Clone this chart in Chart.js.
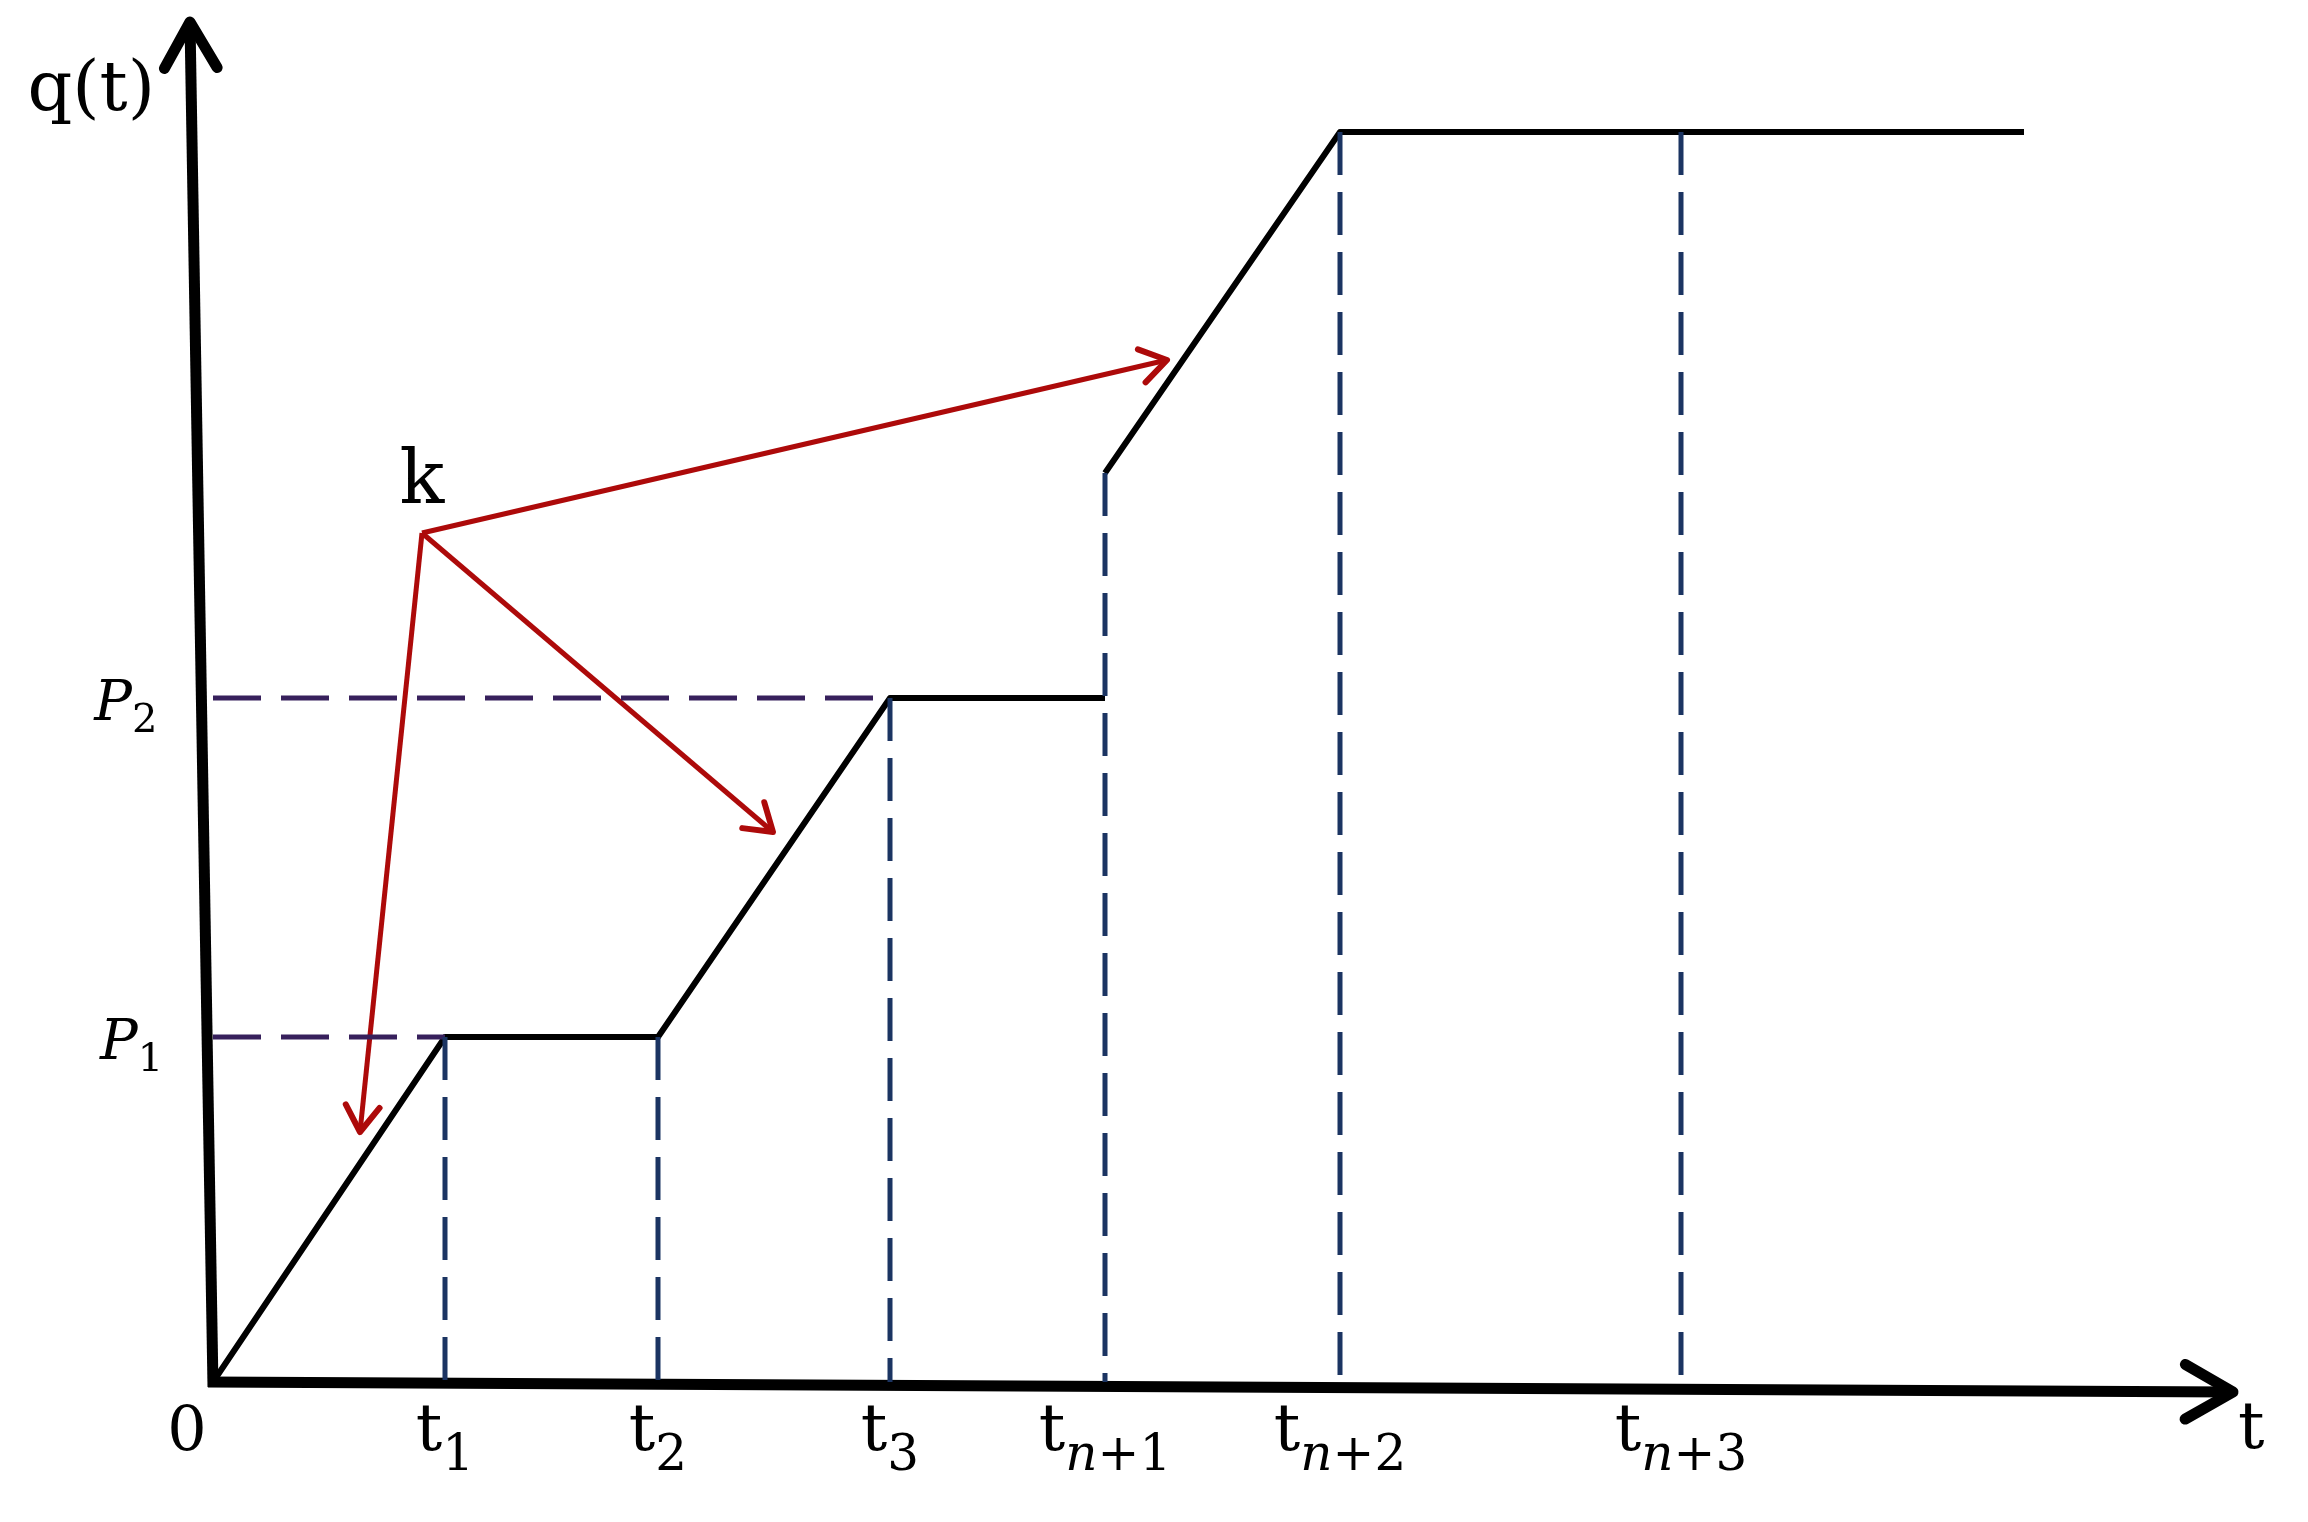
<!DOCTYPE html>
<html><head><meta charset="utf-8">
<script src="https://cdn.jsdelivr.net/npm/chart.js@4/dist/chart.umd.min.js"></script>
<style>html,body{margin:0;padding:0;background:#fff;overflow:hidden}canvas{display:block}</style>
</head><body>
<canvas id="c" width="2308" height="1522"></canvas>
<script>
// ---------- data (same unit on both axes) ----------
const tickSubs   = ['1', '2', '3', 'n+1', 'n+2', 'n+3'];
const tickTimes  = [2.32, 4.45, 6.77, 8.92, 11.27, 14.68];
const guideTops  = [3.45, 3.45, 6.84, 9.09, 12.50, 12.50];   // top of each dashed vertical guide
const levelSubs  = ['1', '2'];
const levelValues = [3.45, 6.84];                             // P1, P2
const levelEnds  = [2.32, 6.77];                              // dashed level line ends at t1, t3
const curveT1 = [0, 2.32, 4.45, 6.77, 8.92];
const curveQ1 = [0, 3.45, 3.45, 6.84, 6.84];
const curveT2 = [8.92, 11.27, 18.11];
const curveQ2 = [9.09, 12.50, 12.50];
const kPoint  = [2.09, 8.49];
const arrowTipT = [1.47, 5.60, 9.54];
const arrowTipQ = [2.50, 5.50, 10.22];
const xAxisT = [-0.05, 20.20], xAxisQ = [0, -0.10];
const yAxisT = [0, -0.23],     yAxisQ = [-0.05, 13.60];

// ---------- build datasets ----------
const pts = (xs, ys) => xs.map((x, i) => ({x, y: ys[i]}));
const datasets = [];
const base = {showLine: true, pointRadius: 0, pointHoverRadius: 0, fill: false, tension: 0};

// vertical dashed guides (drawn from top down)
tickTimes.forEach((t, i) => datasets.push({...base, data: pts([t, t], [guideTops[i], 0]),
  borderColor: '#1b3462', borderWidth: 5, borderDash: [43, 17]}));
// horizontal dashed level lines
levelValues.forEach((v, i) => datasets.push({...base, data: pts([0, levelEnds[i]], [v, v]),
  borderColor: '#37205c', borderWidth: 5, borderDash: [48, 20]}));
// curve
datasets.push({...base, data: pts(curveT1, curveQ1), borderColor: '#000', borderWidth: 6, borderJoinStyle: 'round'});
datasets.push({...base, data: pts(curveT2, curveQ2), borderColor: '#000', borderWidth: 6, borderJoinStyle: 'round'});
// red arrows
arrowTipT.forEach((t, i) => datasets.push({...base, data: pts([kPoint[0], t], [kPoint[1], arrowTipQ[i]]),
  borderColor: '#ad0a0a', borderWidth: 5, arrowHead: {len: 31, spread: 0.58, width: 6, color: '#ad0a0a'}}));
// axes
datasets.push({...base, data: pts(xAxisT, xAxisQ), borderColor: '#000', borderWidth: 11,
  arrowHead: {len: 55, spread: 0.52, width: 11, color: '#000'}});
datasets.push({...base, data: pts(yAxisT, yAxisQ), borderColor: '#000', borderWidth: 11,
  arrowHead: {len: 53, spread: 0.52, width: 11, color: '#000'}});

// ---------- plugins ----------
const arrowPlugin = {
  id: 'arrowHeads',
  afterDatasetsDraw(chart) {
    const ctx = chart.ctx;
    chart.data.datasets.forEach((ds, i) => {
      if (!ds.arrowHead) return;
      const el = chart.getDatasetMeta(i).data;
      const a = el[el.length - 2], b = el[el.length - 1];
      const ang = Math.atan2(b.y - a.y, b.x - a.x);
      const h = ds.arrowHead;
      ctx.save();
      ctx.strokeStyle = h.color; ctx.lineWidth = h.width;
      ctx.lineCap = 'round'; ctx.lineJoin = 'round';
      ctx.beginPath();
      ctx.moveTo(b.x - h.len * Math.cos(ang - h.spread), b.y - h.len * Math.sin(ang - h.spread));
      ctx.lineTo(b.x, b.y);
      ctx.lineTo(b.x - h.len * Math.cos(ang + h.spread), b.y - h.len * Math.sin(ang + h.spread));
      ctx.stroke();
      ctx.restore();
    });
  }
};

const SERIF = '"DejaVu Serif", "Liberation Serif", serif';
function subPieces(sub, size) {
  const out = [];
  for (const ch of sub) out.push({text: ch, font: (ch === 'n' ? 'italic ' : '') + size + 'px ' + SERIF});
  return out;
}
function drawGroup(ctx, mainText, mainFont, sub, subSize, anchorX, align, baseY, subDy) {
  ctx.font = mainFont;
  const mw = ctx.measureText(mainText).width;
  const sp = subPieces(sub, subSize);
  let sw = 0;
  sp.forEach(p => { ctx.font = p.font; p.w = ctx.measureText(p.text).width; sw += p.w; });
  const total = mw + sw;
  let x = align === 'center' ? anchorX - total / 2 : (align === 'right' ? anchorX - total : anchorX);
  ctx.textAlign = 'left'; ctx.textBaseline = 'alphabetic';
  ctx.font = mainFont; ctx.fillText(mainText, x, baseY); x += mw;
  sp.forEach(p => { ctx.font = p.font; ctx.fillText(p.text, x, baseY + subDy); x += p.w; });
}

const textPlugin = {
  id: 'labels',
  afterDraw(chart) {
    const ctx = chart.ctx, xs = chart.scales.x, ys = chart.scales.y;
    const px = v => xs.getPixelForValue(v), py = v => ys.getPixelForValue(v);
    ctx.save();
    ctx.fillStyle = '#000';
    const y0 = py(0);
    // tick labels t_i
    tickTimes.forEach((t, i) => drawGroup(ctx, 't', '66px ' + SERIF, tickSubs[i], 50, px(t), 'center', y0 + 68, 20));
    // origin 0
    ctx.font = '62px ' + SERIF; ctx.textAlign = 'center'; ctx.textBaseline = 'alphabetic';
    ctx.fillText('0', px(0) - 26, y0 + 68);
    // level labels P_i, right aligned to the left of the (slightly tilted) q axis
    levelValues.forEach((v, i) => {
      const axisX = px(yAxisT[0] + (yAxisT[1] - yAxisT[0]) * (v - yAxisQ[0]) / (yAxisQ[1] - yAxisQ[0]));
      drawGroup(ctx, 'P', 'italic 56px ' + SERIF, levelSubs[i], 40, axisX - 44, 'right', py(v) + 22, 12);
    });
    // axis names
    const yTipX = px(yAxisT[1]), yTipY = py(yAxisQ[1]);
    ctx.font = '70px ' + SERIF; ctx.textAlign = 'right';
    ctx.fillText('q(t)', yTipX - 35, yTipY + 88);
    const xTipX = px(xAxisT[1]), xTipY = py(xAxisQ[1]);
    ctx.font = '66px ' + SERIF; ctx.textAlign = 'left';
    ctx.fillText('t', xTipX + 5, xTipY + 56);
    // k
    ctx.font = '74px ' + SERIF; ctx.textAlign = 'center';
    ctx.fillText('k', px(kPoint[0]), py(kPoint[1]) - 30);
    ctx.restore();
  }
};

new Chart(document.getElementById('c'), {
  type: 'scatter',
  data: {datasets},
  options: {
    responsive: false, animation: false, devicePixelRatio: 1,
    layout: {padding: 0},
    plugins: {legend: {display: false}, tooltip: {enabled: false}, title: {display: false}},
    events: [],
    scales: {
      x: {type: 'linear', min: -2.13, max: 20.95, display: false},
      y: {type: 'linear', min: -1.40, max: 13.82, display: false}
    }
  },
  plugins: [arrowPlugin, textPlugin]
});
</script>
</body></html>
